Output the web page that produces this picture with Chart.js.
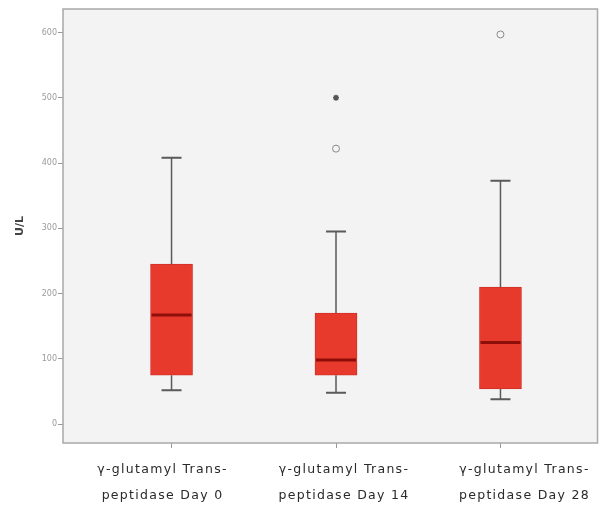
<!DOCTYPE html>
<html>
<head>
<meta charset="utf-8">
<script src="https://cdn.jsdelivr.net/npm/chart.js@4"></script>
<style>
  html, body { margin: 0; padding: 0; background: #fff; }
  #wrap { width: 603px; height: 508px; }
</style>
</head>
<body>
<div id="wrap"><canvas id="boxChart" width="603" height="508"></canvas></div>
<script>
// box plot values (U/L)
const categories = [
    ['γ-glutamyl Trans-', 'peptidase Day 0'],
    ['γ-glutamyl Trans-', 'peptidase Day 14'],
    ['γ-glutamyl Trans-', 'peptidase Day 28']
];
const whiskerLow = [52, 48, 38];
const q1 = [75, 75, 54];
const median = [167, 98, 125];
const q3 = [245, 170, 210];
const whiskerHigh = [408, 295, 373];
const outliers = [{ x: 2, y: 422 }, { x: 3, y: 597 }];
const extremes = [{ x: 2, y: 500 }];
const yTicks = [0, 100, 200, 300, 400, 500, 600];

const positions = categories.map((c, i) => i + 1);
// SPSS puts the wrapped labels a little off their ticks
const labelShift = [-9, 8, 24];

const boxPlugin = {
    id: 'boxExtras',
    beforeDraw(chart) {
        const a = chart.chartArea;
        const c = chart.ctx;
        c.save();
        c.fillStyle = '#f3f3f3';
        c.fillRect(a.left, a.top, a.right - a.left, a.bottom - a.top);
        c.restore();
    },
    afterDatasetsDraw(chart) {
        const x = chart.scales.x;
        const y = chart.scales.y;
        const c = chart.ctx;
        const a = chart.chartArea;
        c.save();
        positions.forEach((p, i) => {
            const px = x.getPixelForValue(p);
            // whiskers
            c.strokeStyle = '#5a5a5a';
            c.lineWidth = 1.5;
            c.beginPath();
            c.moveTo(px, y.getPixelForValue(q3[i]));
            c.lineTo(px, y.getPixelForValue(whiskerHigh[i]));
            c.moveTo(px, y.getPixelForValue(q1[i]));
            c.lineTo(px, y.getPixelForValue(whiskerLow[i]));
            c.stroke();
            c.lineWidth = 2;
            c.beginPath();
            [whiskerHigh[i], whiskerLow[i]].forEach(v => {
                const py = y.getPixelForValue(v);
                c.moveTo(px - 10, py);
                c.lineTo(px + 10, py);
            });
            c.stroke();
            // median
            c.strokeStyle = '#8e0f0a';
            c.lineWidth = 3;
            c.beginPath();
            const my = y.getPixelForValue(median[i]);
            c.moveTo(px - 20, my);
            c.lineTo(px + 20, my);
            c.stroke();
        });
        // frame
        c.strokeStyle = '#a8a8a8';
        c.lineWidth = 1.5;
        c.strokeRect(a.left, a.top, a.right - a.left, a.bottom - a.top);
        c.restore();
    },
    afterDraw(chart) {
        // category labels, drawn with SPSS-like letter spacing
        const x = chart.scales.x;
        const a = chart.chartArea;
        const c = chart.ctx;
        c.save();
        c.font = '12.5px "DejaVu Sans"';
        c.letterSpacing = '1.3px';
        c.fillStyle = '#2a2a2a';
        c.textAlign = 'center';
        c.textBaseline = 'middle';
        positions.forEach((p, i) => {
            const px = x.getPixelForValue(p) + labelShift[i];
            categories[i].forEach((line, j) => {
                c.fillText(line, px, a.bottom + 27 + j * 26);
            });
        });
        c.restore();
    }
};

const ctx = document.getElementById('boxChart');
new Chart(ctx, {
    data: {
        datasets: [{
            type: 'bar',
            label: 'box',
            data: positions.map((p, i) => ({ x: p, y: [q1[i], q3[i]] })),
            backgroundColor: '#e8392d',
            borderColor: '#d2302a',
            borderWidth: 1,
            borderSkipped: false,
            barThickness: 42
        }, {
            type: 'scatter',
            label: 'outliers',
            data: outliers,
            pointStyle: 'circle',
            pointRadius: 3.5,
            backgroundColor: 'rgba(0,0,0,0)',
            borderColor: '#8a8a8a',
            borderWidth: 1
        }, {
            type: 'scatter',
            label: 'extremes',
            data: extremes,
            pointStyle: 'star',
            pointRadius: 3,
            backgroundColor: '#555',
            borderColor: '#555',
            borderWidth: 1.5
        }]
    },
    options: {
        responsive: false,
        animation: false,
        layout: { padding: { top: 9, right: 3, left: 14, bottom: 0 } },
        plugins: {
            legend: { display: false },
            tooltip: { enabled: false }
        },
        scales: {
            x: {
                type: 'linear',
                min: 0.34,
                max: 3.59,
                offset: false,
                afterBuildTicks: function (scale) {
                    scale.ticks = positions.map(v => ({ value: v }));
                },
                afterFit: function (scale) { scale.height = 65; },
                ticks: { display: false },
                grid: { offset: false, drawOnChartArea: false, color: '#999', tickLength: 5 },
                border: { display: false }
            },
            y: {
                min: -29,
                max: 636,
                afterBuildTicks: function (scale) {
                    scale.ticks = yTicks.map(v => ({ value: v }));
                },
                afterFit: function (scale) { scale.width = 49; },
                ticks: {
                    color: '#9a9a9a',
                    font: { family: 'DejaVu Sans', size: 8 },
                    padding: 1
                },
                grid: { drawOnChartArea: false, color: '#999', tickLength: 5 },
                border: { display: false },
                title: {
                    display: true,
                    text: 'U/L',
                    color: '#444',
                    font: { family: 'DejaVu Sans', size: 11, weight: 'bold' },
                    padding: { top: 0, bottom: 0 }
                }
            }
        }
    },
    plugins: [boxPlugin]
});
</script>
</body>
</html>
